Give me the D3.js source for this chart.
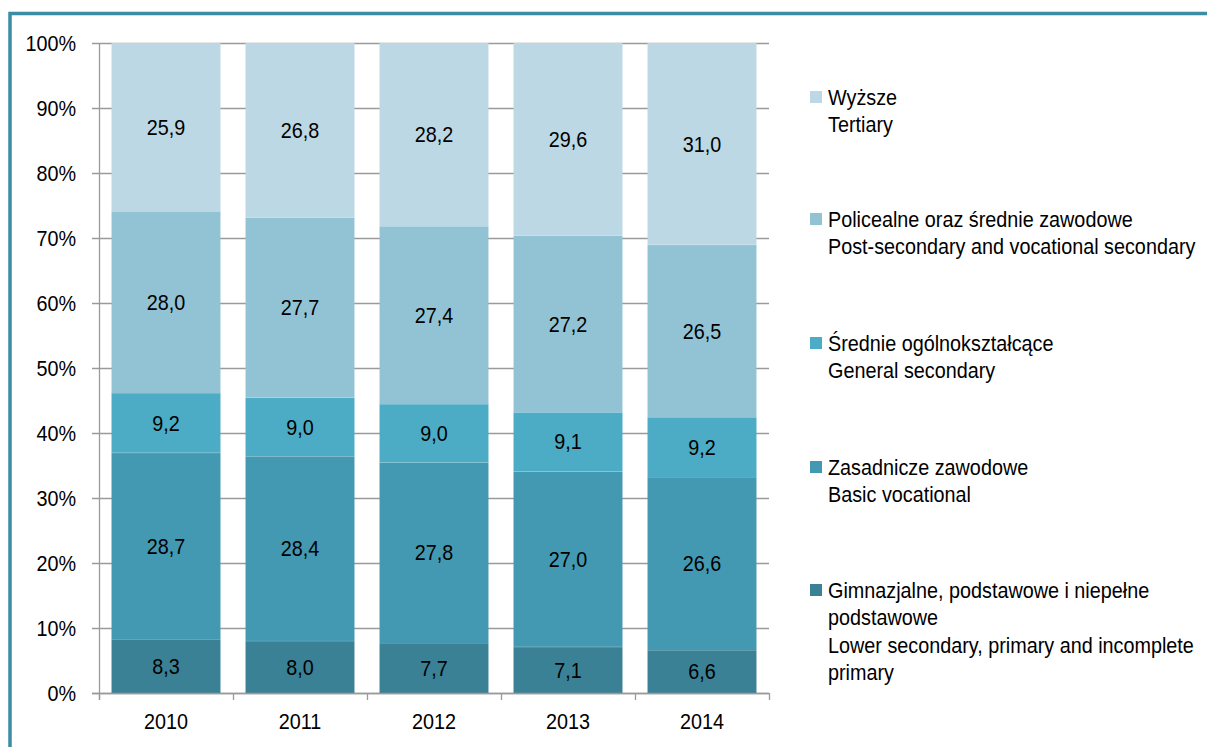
<!DOCTYPE html>
<html>
<head>
<meta charset="utf-8">
<script src="https://cdn.jsdelivr.net/npm/d3@7"></script>
<style>
  html, body { margin: 0; padding: 0; background: #fff; }
  svg text { font-family: "Liberation Sans", Arial, sans-serif; fill: #000; }
</style>
</head>
<body>
<svg id="chart" width="1207" height="747"></svg>
<script>
// lata i serie (od dołu do góry słupka)
const years = ["2010", "2011", "2012", "2013", "2014"];
const seriesKeys = ["lower", "basic", "general", "post", "tertiary"];
const lower    = [8.3, 8.0, 7.7, 7.1, 6.6];
const basic    = [28.7, 28.4, 27.8, 27.0, 26.6];
const general  = [9.2, 9.0, 9.0, 9.1, 9.2];
const post     = [28.0, 27.7, 27.4, 27.2, 26.5];
const tertiary = [25.9, 26.8, 28.2, 29.6, 31.0];
const yTicks = [0, 10, 20, 30, 40, 50, 60, 70, 80, 90, 100];

const COLORS = {
  lower:    "#3A8196",
  basic:    "#4499B2",
  general:  "#4CACC6",
  post:     "#92C3D5",
  tertiary: "#BBD8E4"
};

// legenda: od góry
const legendItems = [
  { key: "tertiary", lines: ["Wyższe", "Tertiary"] },
  { key: "post",     lines: ["Policealne oraz średnie zawodowe", "Post-secondary and vocational secondary"] },
  { key: "general",  lines: ["Średnie ogólnokształcące", "General secondary"] },
  { key: "basic",    lines: ["Zasadnicze zawodowe", "Basic vocational"] },
  { key: "lower",    lines: ["Gimnazjalne, podstawowe i niepełne", "podstawowe", "Lower secondary, primary and incomplete", "primary"] }
];

const table = years.map((yr, i) => ({
  year: yr, lower: lower[i], basic: basic[i], general: general[i], post: post[i], tertiary: tertiary[i]
}));

(function () {
  const svg = d3.select("#chart");
  const FS = 19.8, GRID = "#9a9a9a";
  const SY = 1.08; // tekst w oryginale jest lekko wyciągnięty w pionie
  const pLeft = 99, pRight = 769, pTop = 43, pBottom = 693;
  const at = (tx, ty) => `translate(${tx},${ty}) scale(1,${SY})`;

  const x = d3.scaleBand().domain(years).range([pLeft, pRight]).paddingInner(0.187).paddingOuter(0.0935);
  const y = d3.scaleLinear().domain([0, 100]).range([pBottom, pTop]);

  // ramka
  svg.append("path")
    .attr("d", `M10,747 L10,13.5 L1207,13.5`)
    .attr("fill", "none").attr("stroke", "#3A8DA3").attr("stroke-width", 3.5);

  // linie siatki + etykiety osi Y
  svg.append("g").selectAll("line").data(yTicks).join("line")
    .attr("x1", pLeft - 7).attr("x2", pRight)
    .attr("y1", d => Math.round(y(d)) + 0.5).attr("y2", d => Math.round(y(d)) + 0.5)
    .attr("stroke", GRID).attr("stroke-width", 1.3);

  svg.append("g").selectAll("text").data(yTicks).join("text")
    .attr("transform", d => at(pLeft - 23, y(d)))
    .attr("dy", "0.36em").attr("text-anchor", "end")
    .attr("font-size", FS)
    .text(d => d + "%");

  // słupki skumulowane
  const stack = d3.stack().keys(seriesKeys).offset(d3.stackOffsetExpand);
  const layers = stack(table);

  const gBars = svg.append("g");
  layers.forEach(layer => {
    const key = layer.key;
    gBars.append("g").selectAll("rect").data(layer).join("rect")
      .attr("x", d => x(d.data.year))
      .attr("width", x.bandwidth())
      .attr("y", d => y(d[1] * 100))
      .attr("height", d => y(d[0] * 100) - y(d[1] * 100))
      .attr("fill", COLORS[key]);
    // cienka jasna linia między segmentami
    if (key !== "tertiary") {
      gBars.append("g").selectAll("line").data(layer).join("line")
        .attr("x1", d => x(d.data.year)).attr("x2", d => x(d.data.year) + x.bandwidth())
        .attr("y1", d => y(d[1] * 100)).attr("y2", d => y(d[1] * 100))
        .attr("stroke", "#ffffff").attr("stroke-opacity", 0.35).attr("stroke-width", 1);
    }
    gBars.append("g").selectAll("text").data(layer).join("text")
      .attr("transform", d => at(x(d.data.year) + x.bandwidth() / 2, (y(d[0] * 100) + y(d[1] * 100)) / 2))
      .attr("dy", "0.36em").attr("text-anchor", "middle")
      .attr("font-size", FS)
      .text(d => d3.format(".1f")(d.data[key]).replace(".", ","));
  });

  // osie
  svg.append("line")
    .attr("x1", pLeft + 0.5).attr("x2", pLeft + 0.5).attr("y1", pTop).attr("y2", pBottom + 7)
    .attr("stroke", GRID).attr("stroke-width", 1.3);
  svg.append("line")
    .attr("x1", pLeft - 7).attr("x2", pRight).attr("y1", pBottom + 0.5).attr("y2", pBottom + 0.5)
    .attr("stroke", GRID).attr("stroke-width", 1.3);

  const gap = x.step() - x.bandwidth();
  const bounds = years.map(yr => x(yr) - gap / 2).concat([pRight]);
  svg.append("g").selectAll("line").data(bounds).join("line")
    .attr("x1", d => Math.round(d) + 0.5).attr("x2", d => Math.round(d) + 0.5)
    .attr("y1", pBottom).attr("y2", pBottom + 7)
    .attr("stroke", GRID).attr("stroke-width", 1.3);

  svg.append("g").selectAll("text").data(years).join("text")
    .attr("transform", d => at(x(d) + x.bandwidth() / 2, 721))
    .attr("dy", "0.36em").attr("text-anchor", "middle")
    .attr("font-size", FS)
    .text(d => d);

  // legenda
  const legStarts = [97, 219, 343, 467, 590];
  const LH = 27.5;
  const gLeg = svg.append("g");
  legendItems.forEach((it, i) => {
    const cy = legStarts[i];
    gLeg.append("rect")
      .attr("x", 810).attr("y", cy - 6).attr("width", 12).attr("height", 12)
      .attr("fill", COLORS[it.key]);
    gLeg.append("g").selectAll("text").data(it.lines).join("text")
      .attr("transform", (d, j) => at(828, cy + j * LH))
      .attr("dy", "0.36em").attr("font-size", FS)
      .text(d => d);
  });
})();
</script>
</body>
</html>
